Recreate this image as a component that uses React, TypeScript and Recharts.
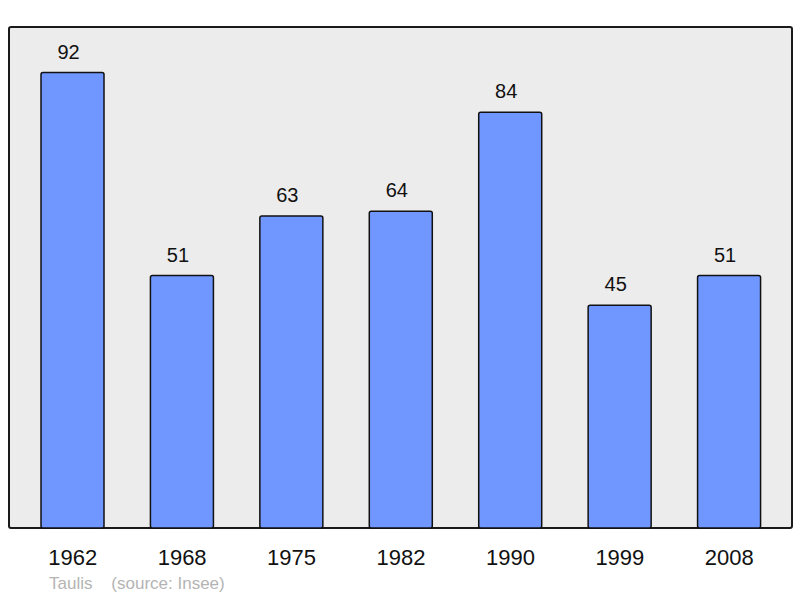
import React from 'react';
import { BarChart, Bar, XAxis, YAxis, LabelList } from 'recharts';

const years = ['1962', '1968', '1975', '1982', '1990', '1999', '2008'];
const population = [92, 51, 63, 64, 84, 45, 51];

const data = years.map((year, i) => ({ year, population: population[i] }));

const font = '"Liberation Sans", Arial, sans-serif';

export default function App() {
  return (
    <div style={{ position: 'relative', width: 800, height: 598, fontFamily: font }}>
      <style>{'body{margin:0}'}</style>
      {/* plot frame behind the chart */}
      <div
        style={{
          position: 'absolute',
          left: 8,
          top: 26,
          width: 785,
          height: 503,
          boxSizing: 'border-box',
          background: '#ececec',
          border: '2px solid #1a1a1a',
          borderRadius: 3,
        }}
      />
      <BarChart
        width={800}
        height={598}
        data={data}
        margin={{ top: 27, right: 8, left: 9, bottom: 40 }}
        barSize={63}
        style={{ position: 'relative' }}
      >
        <XAxis
          dataKey="year"
          height={30}
          tickLine={false}
          axisLine={false}
          tickSize={0}
          tickMargin={21}
          padding={{ left: 9, right: 8 }}
          tick={{ fill: '#111', fontSize: 22, fontFamily: font }}
        />
        <YAxis hide domain={[0, 101.2]} />
        <Bar
          dataKey="population"
          fill="#7097ff"
          stroke="#111"
          strokeWidth={1.5}
          radius={2}
          isAnimationActive={false}
        >
          <LabelList
            dataKey="population"
            position="top"
            offset={14}
            dx={-4}
            fill="#111"
            fontSize={20}
            fontFamily={font}
          />
        </Bar>
      </BarChart>
      <div
        style={{
          position: 'absolute',
          left: 49,
          top: 574,
          fontSize: 17,
          color: '#b4b4b4',
          whiteSpace: 'pre',
        }}
      >
        {'Taulis    (source: Insee)'}
      </div>
    </div>
  );
}
